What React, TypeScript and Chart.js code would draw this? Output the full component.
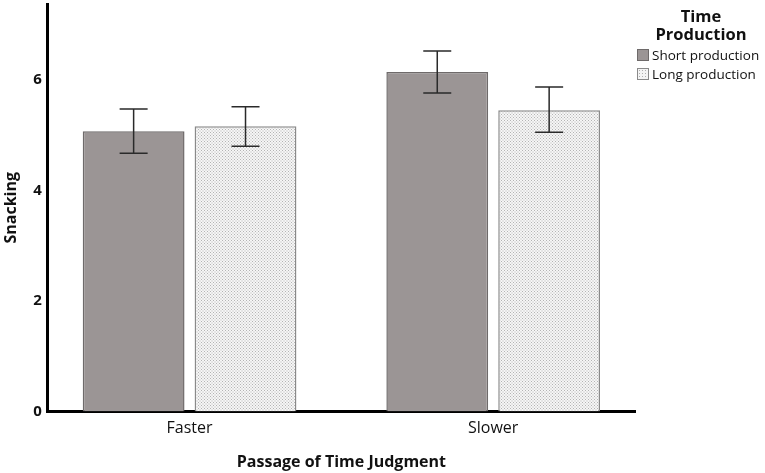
import { useEffect, useRef } from "react"
import { Chart, type ChartConfiguration, type Plugin, registerables } from "chart.js"

Chart.register(...registerables)

const categories = ["Faster", "Slower"]
const seriesNames = ["Short production", "Long production"]
const shortMeans = [5.07, 6.14]
const shortLow = [4.67, 5.76]
const shortHigh = [5.47, 6.52]
const longMeans = [5.16, 5.45]
const longLow = [4.8, 5.05]
const longHigh = [5.51, 5.87]
const yTicks = [0, 2, 4, 6]

const FONT = "'Open Sans', 'DejaVu Sans', sans-serif"

function makeDots(): CanvasPattern | string {
  const c = document.createElement("canvas")
  c.width = 3
  c.height = 3
  const g = c.getContext("2d")
  if (!g) return "#e4e4e4"
  g.fillStyle = "#f6f6f6"
  g.fillRect(0, 0, 3, 3)
  g.fillStyle = "#b4b4b4"
  g.fillRect(0, 0, 1, 1)
  g.fillRect(1.5, 1.5, 1, 1)
  const p = g.createPattern(c, "repeat")
  return p ?? "#e4e4e4"
}

// error bars drawn from the y scale
const errorBars: Plugin<"bar"> = {
  id: "errorBars",
  afterDatasetsDraw(chart) {
    const ctx = chart.ctx
    const y = chart.scales.y
    const ranges = [
      [shortLow, shortHigh],
      [longLow, longHigh],
    ]
    ctx.save()
    ctx.strokeStyle = "#2a2a2a"
    ctx.lineWidth = 1.5
    chart.data.datasets.forEach((_, di) => {
      const meta = chart.getDatasetMeta(di)
      meta.data.forEach((bar, i) => {
        const x = bar.x
        const top = y.getPixelForValue(ranges[di][1][i])
        const bot = y.getPixelForValue(ranges[di][0][i])
        ctx.beginPath()
        ctx.moveTo(x, top)
        ctx.lineTo(x, bot)
        ctx.moveTo(x - 14, top)
        ctx.lineTo(x + 14, top)
        ctx.moveTo(x - 14, bot)
        ctx.lineTo(x + 14, bot)
        ctx.stroke()
      })
    })
    ctx.restore()
  },
}

export default function App() {
  const chartRef = useRef<HTMLCanvasElement>(null)
  const chartInstance = useRef<Chart | null>(null)

  useEffect(() => {
    document.body.style.margin = "0"
    if (!chartRef.current) return
    if (chartInstance.current) chartInstance.current.destroy()
    const ctx = chartRef.current.getContext("2d")
    if (!ctx) return

    const dots = makeDots()
    // categories sit on a numeric axis (0, 1) so their spacing can match
    const toPoints = (vals: number[]) => vals.map((v, i) => ({ x: i, y: v }))

    const config: ChartConfiguration<"bar"> = {
      type: "bar",
      data: {
        datasets: [
          {
            label: seriesNames[0],
            data: toPoints(shortMeans) as any,
            backgroundColor: "#9b9595",
            borderColor: "#6e6a6a",
            borderWidth: 1.5,
            categoryPercentage: 0.737,
            barPercentage: 0.91,
          },
          {
            label: seriesNames[1],
            data: toPoints(longMeans) as any,
            backgroundColor: dots as any,
            borderColor: "#8a8a8a",
            borderWidth: 1.5,
            categoryPercentage: 0.737,
            barPercentage: 0.91,
          },
        ],
      },
      options: {
        responsive: false,
        animation: false,
        layout: { padding: { left: 0, right: 130, top: 4, bottom: 1 } },
        plugins: {
          legend: { display: false },
          tooltip: { enabled: false },
        },
        scales: {
          x: {
            type: "linear",
            min: -0.467,
            max: 1.467,
            offset: false,
            grid: { display: false, drawTicks: false },
            border: { display: true, color: "#000", width: 3 },
            afterBuildTicks: (axis) => {
              axis.ticks = categories.map((_, i) => ({ value: i }))
            },
            ticks: {
              color: "#111",
              font: { family: FONT, size: 16 },
              padding: 7,
              callback: (v) => categories[Number(v)] ?? "",
            },
            title: {
              display: true,
              text: "Passage of Time Judgment",
              color: "#111",
              font: { family: FONT, size: 16, weight: "bold" },
              padding: { top: 8, bottom: 0 },
            },
          },
          y: {
            min: 0,
            max: 7.37,
            grid: { display: false, drawTicks: false },
            border: { display: true, color: "#000", width: 3 },
            afterBuildTicks: (axis) => {
              axis.ticks = yTicks.map((v) => ({ value: v }))
            },
            afterFit: (axis) => {
              // no tick sits at the top, so drop the label overhang
              axis.paddingTop = 0
            },
            ticks: {
              color: "#111",
              font: { family: FONT, size: 15, weight: "bold" },
              padding: 6,
            },
            title: {
              display: true,
              text: "Snacking",
              color: "#111",
              font: { family: FONT, size: 16, weight: "bold" },
              padding: { top: 2, bottom: 6 },
            },
          },
        },
      },
      plugins: [errorBars],
    }

    chartInstance.current = new Chart(ctx, config)
    return () => {
      if (chartInstance.current) {
        chartInstance.current.destroy()
        chartInstance.current = null
      }
    }
  }, [])

  const swatch = (bg: string) => ({
    display: "inline-block",
    width: 12,
    height: 12,
    marginRight: 3,
    verticalAlign: "-1px",
    boxSizing: "border-box" as const,
    border: "1px solid #6e6a6a",
    background: bg,
  })

  return (
    <div style={{ position: "relative", width: 765, height: 473, fontFamily: FONT }}>
      <canvas ref={chartRef} width={765} height={473} style={{ width: 765, height: 473 }} />
      <div style={{ position: "absolute", left: 637, top: 7, color: "#111" }}>
        <div style={{ fontWeight: "bold", fontSize: 16.5, lineHeight: "18px", textAlign: "center", width: 128 }}>
          Time
          <br />
          Production
        </div>
        <div style={{ fontSize: 13.5, lineHeight: "19px", marginTop: 3, whiteSpace: "nowrap" }}>
          <div>
            <span style={swatch("#9b9595")} />
            {seriesNames[0]}
          </div>
          <div>
            <span
              style={{
                ...swatch("#f4f4f4"),
                border: "1px solid #8a8a8a",
                backgroundImage: "radial-gradient(#b0b0b0 0.6px, transparent 0.8px)",
                backgroundSize: "3px 3px",
              }}
            />
            {seriesNames[1]}
          </div>
        </div>
      </div>
    </div>
  )
}
